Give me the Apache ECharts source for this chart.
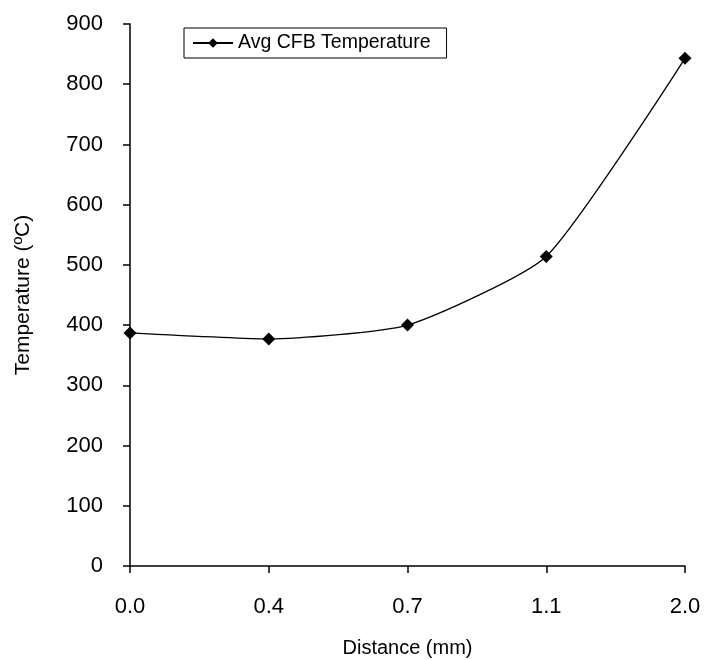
<!DOCTYPE html>
<html>
<head>
<meta charset="utf-8">
<script src="https://cdn.jsdelivr.net/npm/echarts@6/dist/echarts.min.js"></script>
<style>
  html, body { margin: 0; padding: 0; background: #fff; }
  #chart { width: 704px; height: 660px; }
</style>
</head>
<body>
<div id="chart"></div>
<script>
var distances = ['0.0', '0.4', '0.7', '1.1', '2.0'];
var avgTemps = [387, 377, 400, 514, 843];
var seriesName = 'Avg CFB Temperature';

var font = 'Liberation Sans, Arial, sans-serif';

var chart = echarts.init(document.getElementById('chart'));

var option = {
    backgroundColor: '#ffffff',
    animation: false,
    grid: {
        left: 130,
        right: 19,
        top: 24,
        bottom: 94,
        containLabel: false,
        outerBoundsMode: 'none'
    },
    legend: {
        data: [seriesName],
        left: 184,
        top: 28,
        padding: [5, 16, 5, 8],
        borderColor: '#000',
        borderWidth: 1,
        borderRadius: 0,
        itemWidth: 40,
        itemHeight: 12,
        itemGap: 4,
        textStyle: {
            color: '#000',
            fontSize: 19.5,
            fontFamily: font
        }
    },
    xAxis: {
        type: 'category',
        data: distances,
        boundaryGap: false,
        name: 'Distance (mm)',
        nameLocation: 'middle',
        nameGap: 72,
        nameTextStyle: { color: '#000', fontSize: 20, fontFamily: font },
        axisLine: { lineStyle: { color: '#000', width: 1.5 } },
        axisTick: { show: true, inside: false, length: 7, lineStyle: { color: '#000', width: 1.5 } },
        axisLabel: { color: '#000', fontSize: 22, fontFamily: font, margin: 30 },
        splitLine: { show: false }
    },
    yAxis: {
        type: 'value',
        min: 0,
        max: 900,
        interval: 100,
        name: 'Temperature (ºC)',
        nameLocation: 'middle',
        nameGap: 96,
        nameTextStyle: { color: '#000', fontSize: 21, fontFamily: font },
        axisLine: { show: true, lineStyle: { color: '#000', width: 1.5 } },
        axisTick: { show: true, inside: false, length: 7, lineStyle: { color: '#000', width: 1.5 } },
        axisLabel: { color: '#000', fontSize: 22, fontFamily: font, margin: 27 },
        splitLine: { show: false }
    },
    series: [
        {
            name: seriesName,
            type: 'line',
            data: avgTemps,
            smooth: 0.18,
            symbol: 'diamond',
            symbolSize: 13,
            itemStyle: { color: '#000' },
            lineStyle: { color: '#000', width: 1.3 }
        }
    ]
};

chart.setOption(option);
</script>
</body>
</html>
